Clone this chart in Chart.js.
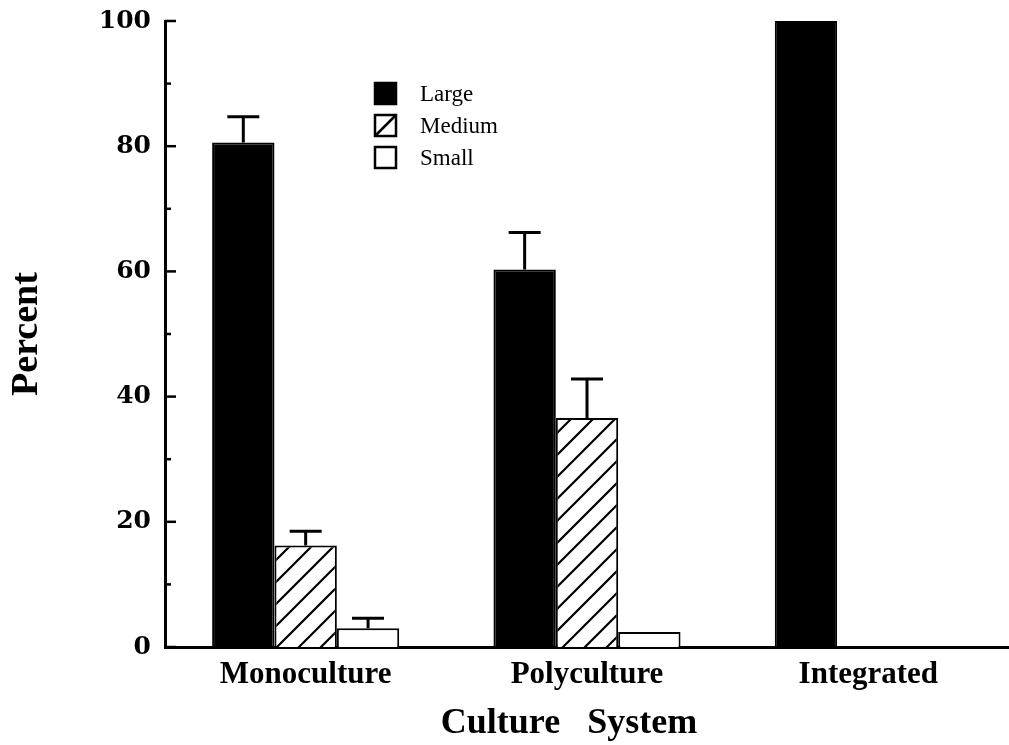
<!DOCTYPE html>
<html>
<head>
<meta charset="utf-8">
<script src="https://cdn.jsdelivr.net/npm/chart.js@4.4.1/dist/chart.umd.min.js"></script>
<style>
  html, body { margin: 0; padding: 0; background: #fff; overflow: hidden; }
</style>
</head>
<body>
<canvas id="chart" width="1009" height="745"></canvas>
<script>
// values (percent of harvest by size class)
const categories = ['Monoculture', 'Polyculture', 'Integrated'];
const seriesNames = ['Large', 'Medium', 'Small'];
const largeValues = [80.6, 60.3, 100];
const mediumValues = [16.2, 36.6, 0];
const smallValues = [3.0, 2.4, 0];
// upper error bar length (null = no bar)
const largeErrors = [4.1, 5.9, null];
const mediumErrors = [2.3, 6.2, null];
const smallErrors = [1.6, null, null];
const yTicks = [0, 20, 40, 60, 80, 100];

const SERIF = '"Liberation Serif", "Times New Roman", serif';

// diagonal hatch for the medium bars
function makeHatch() {
    const s = 22;
    const c = document.createElement('canvas');
    c.width = s; c.height = s;
    const g = c.getContext('2d');
    g.fillStyle = '#fff';
    g.fillRect(0, 0, s, s);
    g.strokeStyle = '#000';
    g.lineWidth = 2.2;
    g.beginPath();
    for (let k = -1; k <= 1; k++) {
        g.moveTo(-s, (k + 2) * s);
        g.lineTo((k + 2) * s, -s);
    }
    g.stroke();
    return g.createPattern(c, 'repeat');
}

// error bars, only the upper half
const errorBars = {
    id: 'errorBars',
    afterDatasetsDraw(chart) {
        const ctx = chart.ctx;
        const y = chart.scales.y;
        ctx.save();
        ctx.strokeStyle = '#000';
        ctx.lineWidth = 3;
        chart.data.datasets.forEach((ds, i) => {
            chart.getDatasetMeta(i).data.forEach((bar, j) => {
                const e = ds.errors[j];
                if (e == null) return;
                const top = y.getPixelForValue(ds.data[j] + e);
                ctx.beginPath();
                ctx.moveTo(bar.x, bar.y);
                ctx.lineTo(bar.x, top);
                ctx.moveTo(bar.x - 16, top);
                ctx.lineTo(bar.x + 16, top);
                ctx.stroke();
            });
        });
        ctx.restore();
    }
};

// tick marks pointing into the plot
const innerTicks = {
    id: 'innerTicks',
    afterDraw(chart) {
        const ctx = chart.ctx;
        const y = chart.scales.y;
        const x0 = chart.chartArea.left;
        ctx.save();
        ctx.strokeStyle = '#000';
        ctx.lineWidth = 2.5;
        y.ticks.forEach(t => {
            const py = y.getPixelForValue(t.value);
            const len = yTicks.includes(t.value) ? 11 : 6;
            ctx.beginPath();
            ctx.moveTo(x0, py);
            ctx.lineTo(x0 + len, py);
            ctx.stroke();
        });
        ctx.restore();
    }
};

// legend drawn inside the plot
const boxLegend = {
    id: 'boxLegend',
    afterDraw(chart) {
        const ctx = chart.ctx;
        const left = chart.chartArea.left + 210;
        let top = chart.chartArea.top + 62;
        ctx.save();
        ctx.font = '23px ' + SERIF;
        ctx.textBaseline = 'middle';
        chart.data.datasets.forEach(ds => {
            ctx.fillStyle = ds.hatch ? '#fff' : ds.backgroundColor;
            ctx.fillRect(left, top, 21, 21);
            ctx.strokeStyle = '#000';
            ctx.lineWidth = 2.5;
            if (ds.hatch) {
                ctx.beginPath();
                ctx.moveTo(left, top + 21);
                ctx.lineTo(left + 21, top);
                ctx.stroke();
            }
            ctx.strokeRect(left, top, 21, 21);
            ctx.fillStyle = '#000';
            ctx.fillText(ds.label, left + 45, top + 12);
            top += 32;
        });
        ctx.restore();
    }
};

const ctx = document.getElementById('chart').getContext('2d');
new Chart(ctx, {
    type: 'bar',
    data: {
        labels: categories,
        datasets: [
            { label: seriesNames[0], data: largeValues, errors: largeErrors, backgroundColor: '#000' },
            { label: seriesNames[1], data: mediumValues, errors: mediumErrors, backgroundColor: makeHatch(), hatch: true },
            { label: seriesNames[2], data: smallValues, errors: smallErrors, backgroundColor: '#fff' }
        ]
    },
    options: {
        responsive: false,
        animation: false,
        layout: { padding: { top: 8, right: 0, left: 0, bottom: 0 } },
        datasets: {
            bar: {
                borderColor: '#000',
                borderWidth: 2,
                categoryPercentage: 0.665,
                barPercentage: 1.0
            }
        },
        plugins: {
            legend: { display: false },
            tooltip: { enabled: false }
        },
        scales: {
            x: {
                grid: { display: false },
                border: { display: true, color: '#000', width: 3 },
                ticks: {
                    color: '#000',
                    padding: 1,
                    font: { family: SERIF, size: 31, weight: 'bold' }
                },
                title: {
                    display: true,
                    text: 'Culture   System    ',
                    color: '#000',
                    font: { family: SERIF, size: 36, weight: 'bold' },
                    padding: { top: 4, bottom: 0 }
                },
                afterFit(scale) { scale.height = 98; }
            },
            y: {
                min: 0,
                max: 100,
                grid: { display: false },
                border: { display: true, color: '#000', width: 3 },
                ticks: {
                    stepSize: 10,
                    color: '#000',
                    padding: 6,
                    font: { family: '"DejaVu Serif", serif', size: 25, weight: 'bold' },
                    callback: v => yTicks.includes(v) ? v : ''
                },
                title: {
                    display: true,
                    text: 'Percent',
                    color: '#000',
                    font: { family: SERIF, size: 38, weight: 'bold' },
                    padding: { top: 4, bottom: 4 }
                },
                afterFit(scale) { scale.width = 165; }
            }
        }
    },
    plugins: [errorBars, innerTicks, boxLegend]
});
</script>
</body>
</html>
